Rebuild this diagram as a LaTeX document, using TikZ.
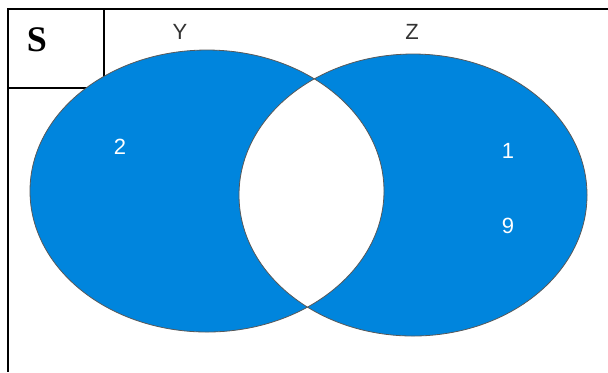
\documentclass[tikz,border=0pt]{standalone}
\usepackage{fontspec}
\setmainfont{Liberation Serif}
\setsansfont{Liberation Sans}
\definecolor{setblue}{HTML}{0085DD}
\definecolor{labelgray}{HTML}{333333}
\tikzset{
  setlabel/.style={font=\sffamily\fontsize{11}{13}\selectfont, text=labelgray},
  member/.style={font=\sffamily\fontsize{11}{13}\selectfont, text=white}
}
\begin{document}
\begin{tikzpicture}[x=0.5pt, y=-0.5pt]
    \useasboundingbox (0,0) rectangle (608,372);

    % universe frame
    \draw[line width=1pt] (8,9) -- (608,9);
    \draw[line width=1pt] (8,9) -- (8,372);
    \draw[line width=1pt] (8,9) rectangle (104,88);
    \node (univ) at (37,40) {\fontsize{18}{20}\selectfont\bfseries S};

    % the two sets, overlap left white
    \filldraw[fill=setblue, draw=gray!70!black, line width=0.4pt, even odd rule]
        (207,191) ellipse [x radius=177, y radius=141]
        (413,195) ellipse [x radius=174, y radius=141];

    \node[setlabel] (setY) at (180,32) {Y};
    \node[setlabel] (setZ) at (412,32) {Z};

    \node[member] (two) at (120,147) {2};
    \node[member] (one) at (508,151) {1};
    \node[member] (nine) at (508,226) {9};
\end{tikzpicture}
\end{document}
